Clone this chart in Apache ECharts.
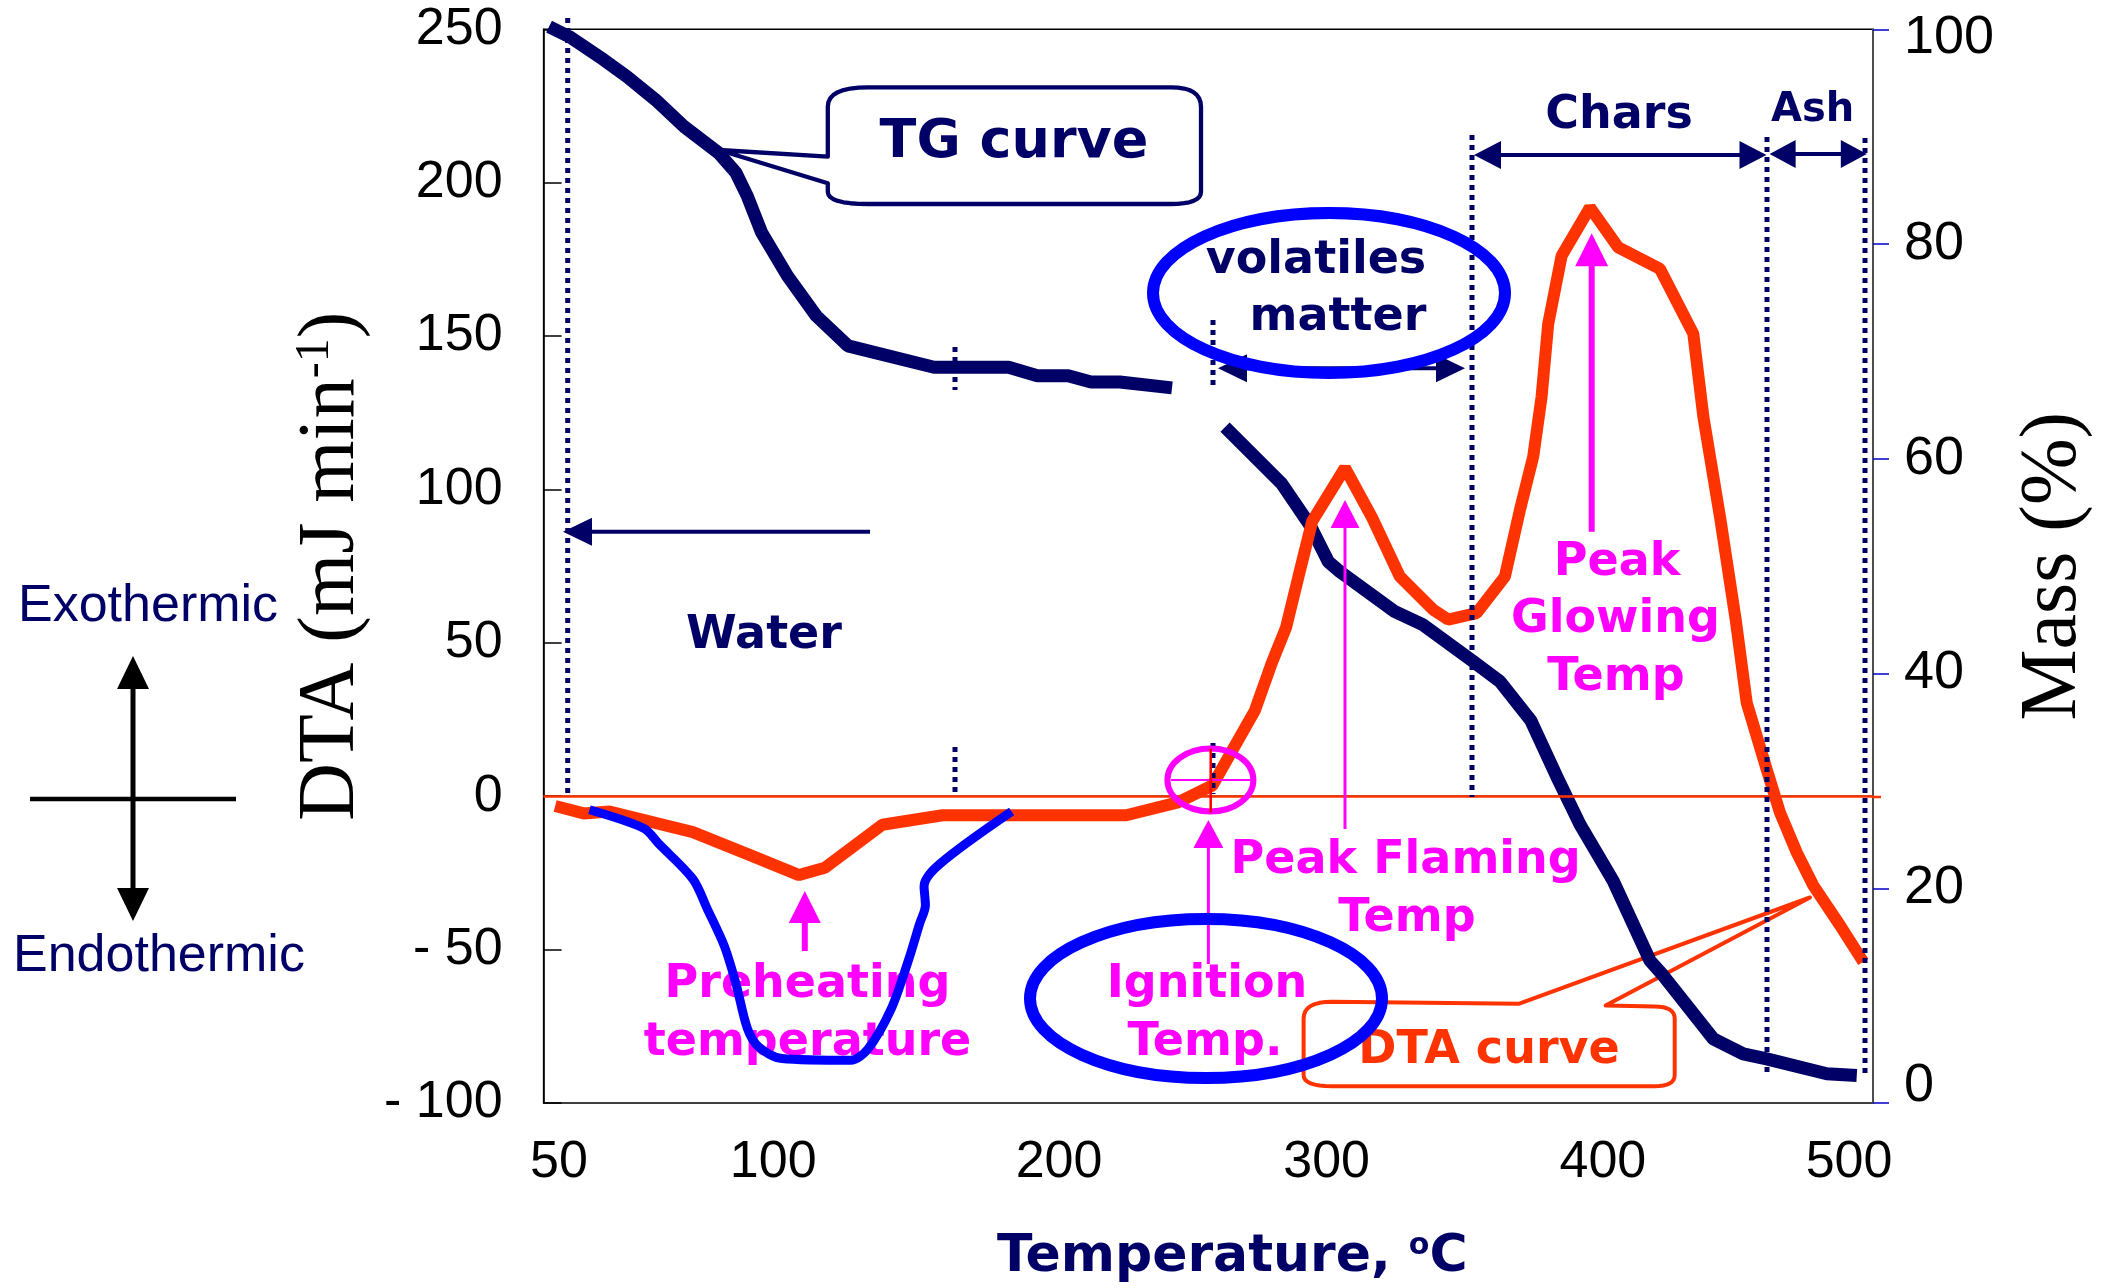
<!DOCTYPE html>
<html><head><meta charset="utf-8">
<script src="https://cdn.jsdelivr.net/npm/echarts@6/dist/echarts.min.js"></script>
<style>html,body{margin:0;padding:0;background:#fff}#c{width:2102px;height:1288px}</style>
</head><body><div id="c"></div>
<script>
// Horizontal scale: evenly spaced reading positions 0..100 across the plot;
// the source places its temperature tick labels at these positions.
const xTickPos  = [1.16, 17.27, 38.77, 58.9, 79.68, 98.2];
const xTickText = ['50', '100', '200', '300', '400', '500'];

// DTA curve (mJ min-1), left axis
const dtaX = [0.87, 3.02, 4.96, 11.23, 15.76, 19.22, 21.16, 25.48, 30.01, 43.83, 47.71, 50.31, 53.51, 54.79, 55.85, 56.76, 57.82, 60.28, 62.29, 64.41, 66.92, 68.04, 70.18, 72.31, 73.44, 74.44, 75.07, 75.57, 76.58, 78.71, 80.84, 83.98, 86.48, 87.24, 88.49, 89.67, 90.5, 92.0, 93.0, 94.26, 95.51, 97.52, 99.27];
const dtaY = [-3.2, -5.6, -5.0, -11.7, -19.6, -25.7, -23.3, -9.3, -6.2, -6.2, -2.0, 3.5, 28.0, 43.6, 55.0, 71.2, 89.7, 107.0, 91.1, 71.6, 60.8, 57.6, 59.7, 71.6, 93.3, 110.7, 130.2, 154.0, 176.2, 191.9, 178.9, 171.9, 150.8, 123.7, 91.1, 57.6, 30.5, 8.8, -5.3, -18.3, -29.1, -42.1, -54.0];

// TG curve (mass %), right axis; null = gap where the source hides the curve
const tgX = [0.41, 1.94, 4.54, 6.26, 8.42, 10.56, 13.17, 14.47, 15.33, 16.41, 18.35, 20.51, 22.89, 29.37, 34.98, 37.14, 39.45, 41.18, 43.34, 47.27, 49.3, 51.26, 55.52, 57.65, 59.03, 59.91, 64.04, 66.17, 69.93, 71.94, 74.26, 76.21, 77.96, 80.46, 83.23, 84.23, 87.99, 90.24, 92.0, 96.52, 98.78];
const tgY = [100.25, 99.31, 97.15, 95.6, 93.43, 90.95, 88.48, 86.63, 84.45, 81.05, 77.02, 73.31, 70.52, 68.52, 68.52, 67.74, 67.74, 67.15, 67.15, 66.6, null, 62.94, 57.68, 53.81, 50.41, 49.48, 45.76, 44.52, 41.12, 39.26, 35.62, 30.4, 25.94, 20.68, 13.25, 11.86, 5.97, 4.58, 4.11, 2.72, 2.57];

// Blue endothermic (water) curve, left axis
const blueX = [3.45, 7.56, 8.64, 11.23, 12.31, 13.6, 14.47, 15.33, 16.2, 17.92, 23.1, 24.4, 26.12, 27.42, 28.28, 28.72, 28.62, 29.8, 35.2];
const blueY = [-4.4, -10.5, -15.4, -27.0, -36.7, -48.9, -61.1, -75.7, -81.8, -85.5, -86.1, -82.4, -69.6, -53.8, -41.6, -35.5, -29.4, -22.1, -5.0];

const NAVY = '#000066', ORANGE = '#FF3300', BLUE = '#0000FF', MAG = '#FF00FF';
const zip = (xs, ys) => xs.map((x, i) => [x, ys[i] === null ? '-' : ys[i]]);
const tickMap = new Map(xTickPos.map((p, i) => [p, xTickText[i]]));

function ln(x1, y1, x2, y2, stroke, w, dash, z) {
  return {type: 'line', silent: true, z: z == null ? 10 : z, shape: {x1, y1, x2, y2},
    style: {stroke, lineWidth: w, lineDash: dash || null}};
}
function poly(points, fill, z) {
  return {type: 'polygon', silent: true, z: z == null ? 10 : z, shape: {points}, style: {fill}};
}
function txt(t, x, y, size, color, z, extra) {
  return {type: 'text', silent: true, z: z == null ? 10 : z,
    style: Object.assign({text: t, x, y, fill: color, fontSize: size, fontFamily: 'DejaVu Sans',
      fontWeight: 'bold', align: 'center', verticalAlign: 'middle'}, extra || {})};
}
function ell(cx, cy, rx, ry, stroke, w, z) {
  return {type: 'ellipse', silent: true, z: z == null ? 10 : z, shape: {cx, cy, rx, ry},
    style: {fill: null, stroke, lineWidth: w}};
}
function hArrowBoth(x1, x2, y, color, w, hl, hh) {
  return [ln(x1 + hl - 2, y, x2 - hl + 2, y, color, w),
    poly([[x1, y], [x1 + hl, y - hh], [x1 + hl, y + hh]], color),
    poly([[x2, y], [x2 - hl, y - hh], [x2 - hl, y + hh]], color)];
}
function upArrow(x, yTip, yBot, color, w, hl, hh) {
  return [ln(x, yBot, x, yTip + hl - 2, color, w),
    poly([[x, yTip], [x - hh, yTip + hl], [x + hh, yTip + hl]], color)];
}
// outline built from points; ['q', cx, cy, x, y] entries are rounded corners
function outline(spec, stroke, w, z) {
  const pts = [];
  spec.forEach(s => {
    if (s[0] === 'q') {
      const p0 = pts[pts.length - 1];
      for (let k = 1; k <= 8; k++) {
        const t = k / 8, u = 1 - t;
        pts.push([u * u * p0[0] + 2 * u * t * s[1] + t * t * s[3], u * u * p0[1] + 2 * u * t * s[2] + t * t * s[4]]);
      }
    } else pts.push(s);
  });
  return {type: 'polygon', silent: true, z: z == null ? 1 : z, shape: {points: pts},
    style: {fill: null, stroke, lineWidth: w, lineJoin: 'round'}};
}

const g = [];
// Exothermic / Endothermic cross
g.push(ln(30, 799, 236, 799, '#000', 4.5));
g.push(ln(133, 684, 133, 893, '#000', 5));
g.push(poly([[133, 656], [117, 689], [149, 689]], '#000'));
g.push(poly([[133, 921], [117, 888], [149, 888]], '#000'));
g.push(txt('Exothermic', 18, 607, 52, NAVY, 10, {align: 'left', fontFamily: 'Liberation Sans', fontWeight: 'normal'}));
g.push(txt('Endothermic', 13, 957, 52, NAVY, 10, {align: 'left', fontFamily: 'Liberation Sans', fontWeight: 'normal'}));

// dotted phase boundaries
const dot = [5, 5];
g.push(ln(567.7, 18, 567.7, 794, NAVY, 5, dot));
g.push(ln(955, 347, 955, 390, NAVY, 5, dot));
g.push(ln(955, 747, 955, 794, NAVY, 5, dot));
g.push(ln(1213, 320, 1213, 388, NAVY, 5, dot));
g.push(ln(1213, 743, 1213, 794, NAVY, 5, dot));
g.push(ln(1472, 135, 1472, 797, NAVY, 5, dot));
g.push(ln(1767, 137, 1767, 1077, NAVY, 5, dot));
g.push(ln(1865, 138, 1865, 1078, NAVY, 5, dot));

// water arrow
g.push(ln(590, 531.7, 870, 531.7, NAVY, 4));
g.push(poly([[563, 531.7], [592, 517.7], [592, 545.7]], NAVY));
// volatiles, chars, ash arrows
g.push(...hArrowBoth(1218, 1465, 368.3, NAVY, 4, 29, 14));
g.push(...hArrowBoth(1474, 1766.5, 155, NAVY, 4, 27, 14));
g.push(...hArrowBoth(1769.6, 1866.8, 154, NAVY, 4, 26, 14));

// ellipses
g.push(ell(1329, 293, 176, 80, BLUE, 12, 11));
g.push(ell(1206, 998.5, 176, 79.5, BLUE, 12, 11));
g.push(ell(1210.4, 780, 43, 31.4, MAG, 6, 12));
g.push(ln(1171, 780, 1252.6, 780, MAG, 2, null, 12));
g.push(ln(1210.7, 748.7, 1210.7, 812.5, '#FF0000', 2.5, null, 12));
// zero line overhang past the right frame
g.push(ln(1873, 797, 1881, 797, ORANGE, 2.5, null, 2));

// magenta arrows
g.push(...upArrow(804.8, 891, 951, MAG, 6, 32, 16));
g.push(...upArrow(1208.4, 820, 964, MAG, 3, 28, 15));
g.push(...upArrow(1345, 500, 829, MAG, 3, 28, 14.5));
g.push(...upArrow(1591.7, 233.3, 531.7, MAG, 6, 33, 16.5));

// callouts
g.push(outline([[827.8, 156.7], [827.8, 106.7], ['q', 827.8, 87.3, 868, 87.3], [1170.7, 87.3],
  ['q', 1201, 87.3, 1201, 106.7], [1201, 191.7], ['q', 1201, 204, 1170.7, 204], [868, 204],
  ['q', 827.8, 204, 827.8, 191.7], [827.8, 183.3], [719, 150]], NAVY, 4.3));
g.push(outline([[1519.3, 1003.7], [1332, 1001.8], ['q', 1303.6, 1001.8, 1303.6, 1018.7], [1303.6, 1075],
  ['q', 1303.6, 1086.2, 1332, 1086.2], [1654.5, 1086.2], ['q', 1674.7, 1086.2, 1674.7, 1075],
  [1674.7, 1018.7], ['q', 1674.7, 1006.5, 1654.5, 1006.5], [1605.6, 1005.6], [1810, 897.5]], ORANGE, 4));

// texts
g.push(txt('TG curve', 1014, 142.5, 54, NAVY));
g.push(txt('volatiles', 1316, 261.5, 46, NAVY));
g.push(txt('matter', 1338, 318.2, 46, NAVY));
g.push(txt('Chars', 1619, 116.5, 46, NAVY));
g.push(txt('Ash', 1812.6, 110.4, 40, NAVY));
g.push(txt('Water', 764, 636.5, 46, NAVY));
g.push(txt('Peak', 1617, 563.2, 46, MAG));
g.push(txt('Glowing', 1615.5, 619.9, 46, MAG));
g.push(txt('Temp', 1616, 678.2, 46, MAG));
g.push(txt('Peak Flaming', 1405.7, 861.2, 46, MAG));
g.push(txt('Temp', 1407, 919.2, 46, MAG));
g.push(txt('Ignition', 1207, 985.2, 46, MAG));
g.push(txt('Temp.', 1205, 1043.2, 46, MAG));
g.push(txt('Preheating', 807.5, 985, 46, MAG, 1));
g.push(txt('temperature', 807.5, 1043.2, 46, MAG, 1));
g.push(txt('DTA curve', 1489, 1050.7, 46, ORANGE));

const tickFamily = '"Liberation Sans Narrow", "Liberation Sans", Arial, sans-serif';
const tickFont = {fontFamily: tickFamily, fontSize: 52, color: '#000'};

const option = {
  animation: false,
  backgroundColor: '#fff',
  grid: {left: 543.6, right: 229, top: 29.3, bottom: 182, show: true, borderColor: '#000', borderWidth: 1.5, containLabel: false},
  xAxis: {
    type: 'value', min: 0, max: 100,
    axisLine: {show: true, lineStyle: {color: '#444', width: 1.5}},
    axisTick: {show: false},
    splitLine: {show: false},
    axisLabel: Object.assign({customValues: xTickPos, margin: 34,
      formatter: v => tickMap.has(v) ? tickMap.get(v) : ''}, tickFont),
    name: '{a|Temperature, }{s|o}{a|C}',
    nameLocation: 'middle', nameGap: 128,
    nameTextStyle: {padding: [0, 0, 0, 48], rich: {
      a: {fontFamily: 'DejaVu Sans', fontWeight: 'bold', fontSize: 52, color: NAVY},
      s: {fontFamily: 'DejaVu Sans', fontWeight: 'bold', fontSize: 30, color: NAVY, verticalAlign: 'top'}}}
  },
  yAxis: [{
    type: 'value', min: -100, max: 250, interval: 50, position: 'left',
    axisLine: {show: true, lineStyle: {color: '#000', width: 1.5}},
    axisTick: {show: true, inside: true, length: 18, lineStyle: {color: '#000', width: 1.5}},
    splitLine: {show: false},
    axisLabel: Object.assign({margin: 41, formatter: v => v < 0 ? '- ' + (-v) : String(v)}, tickFont),
    name: '{a|DTA (mJ min}{s|-1}{a|)}',
    nameLocation: 'middle', nameRotate: 90, nameGap: 172,
    nameTextStyle: {rich: {
      a: {fontFamily: 'Liberation Serif', fontSize: 80, color: '#000'},
      s: {fontFamily: 'Liberation Serif', fontSize: 48, color: '#000', verticalAlign: 'top'}}}
  }, {
    type: 'value', min: 0, max: 100, interval: 20, position: 'right',
    axisLine: {show: true, lineStyle: {color: '#555', width: 1.5}},
    axisTick: {show: true, inside: false, length: 16, lineStyle: {color: '#0000CC', width: 1.5}},
    splitLine: {show: false},
    axisLabel: Object.assign({margin: 31,
      formatter: v => v === 100 ? '{top|100}' : v === 0 ? '{bot|0}' : String(v),
      rich: {
        top: {fontFamily: tickFamily, fontSize: 54, color: '#000', padding: [18, 0, 0, 0]},
        bot: {fontFamily: tickFamily, fontSize: 54, color: '#000', padding: [0, 0, 34, 0]}
      }}, tickFont, {fontSize: 54}),
    name: 'Mass (%)',
    nameLocation: 'middle', nameRotate: 90, nameGap: 141,
    nameTextStyle: {fontFamily: 'Liberation Serif', fontSize: 80, color: '#000'}
  }],
  series: [{
    name: 'TG curve', type: 'line', yAxisIndex: 1, data: zip(tgX, tgY),
    symbol: 'none', clip: false, connectNulls: false, z: 3,
    lineStyle: {color: NAVY, width: 13}
  }, {
    name: 'DTA curve', type: 'line', yAxisIndex: 0, data: zip(dtaX, dtaY),
    symbol: 'none', clip: false, z: 4,
    lineStyle: {color: ORANGE, width: 12},
    markLine: {silent: true, symbol: ['none', 'none'], label: {show: false},
      lineStyle: {color: ORANGE, width: 2.5, type: 'solid'}, data: [{yAxis: 0}]}
  }, {
    name: 'Water', type: 'line', yAxisIndex: 0, data: zip(blueX, blueY),
    symbol: 'none', smooth: 0.3, clip: false, z: 5,
    lineStyle: {color: BLUE, width: 9}
  }],
  graphic: {elements: g}
};

const chart = echarts.init(document.getElementById('c'), null, {renderer: 'canvas'});
chart.setOption(option);
</script>
</body></html>
